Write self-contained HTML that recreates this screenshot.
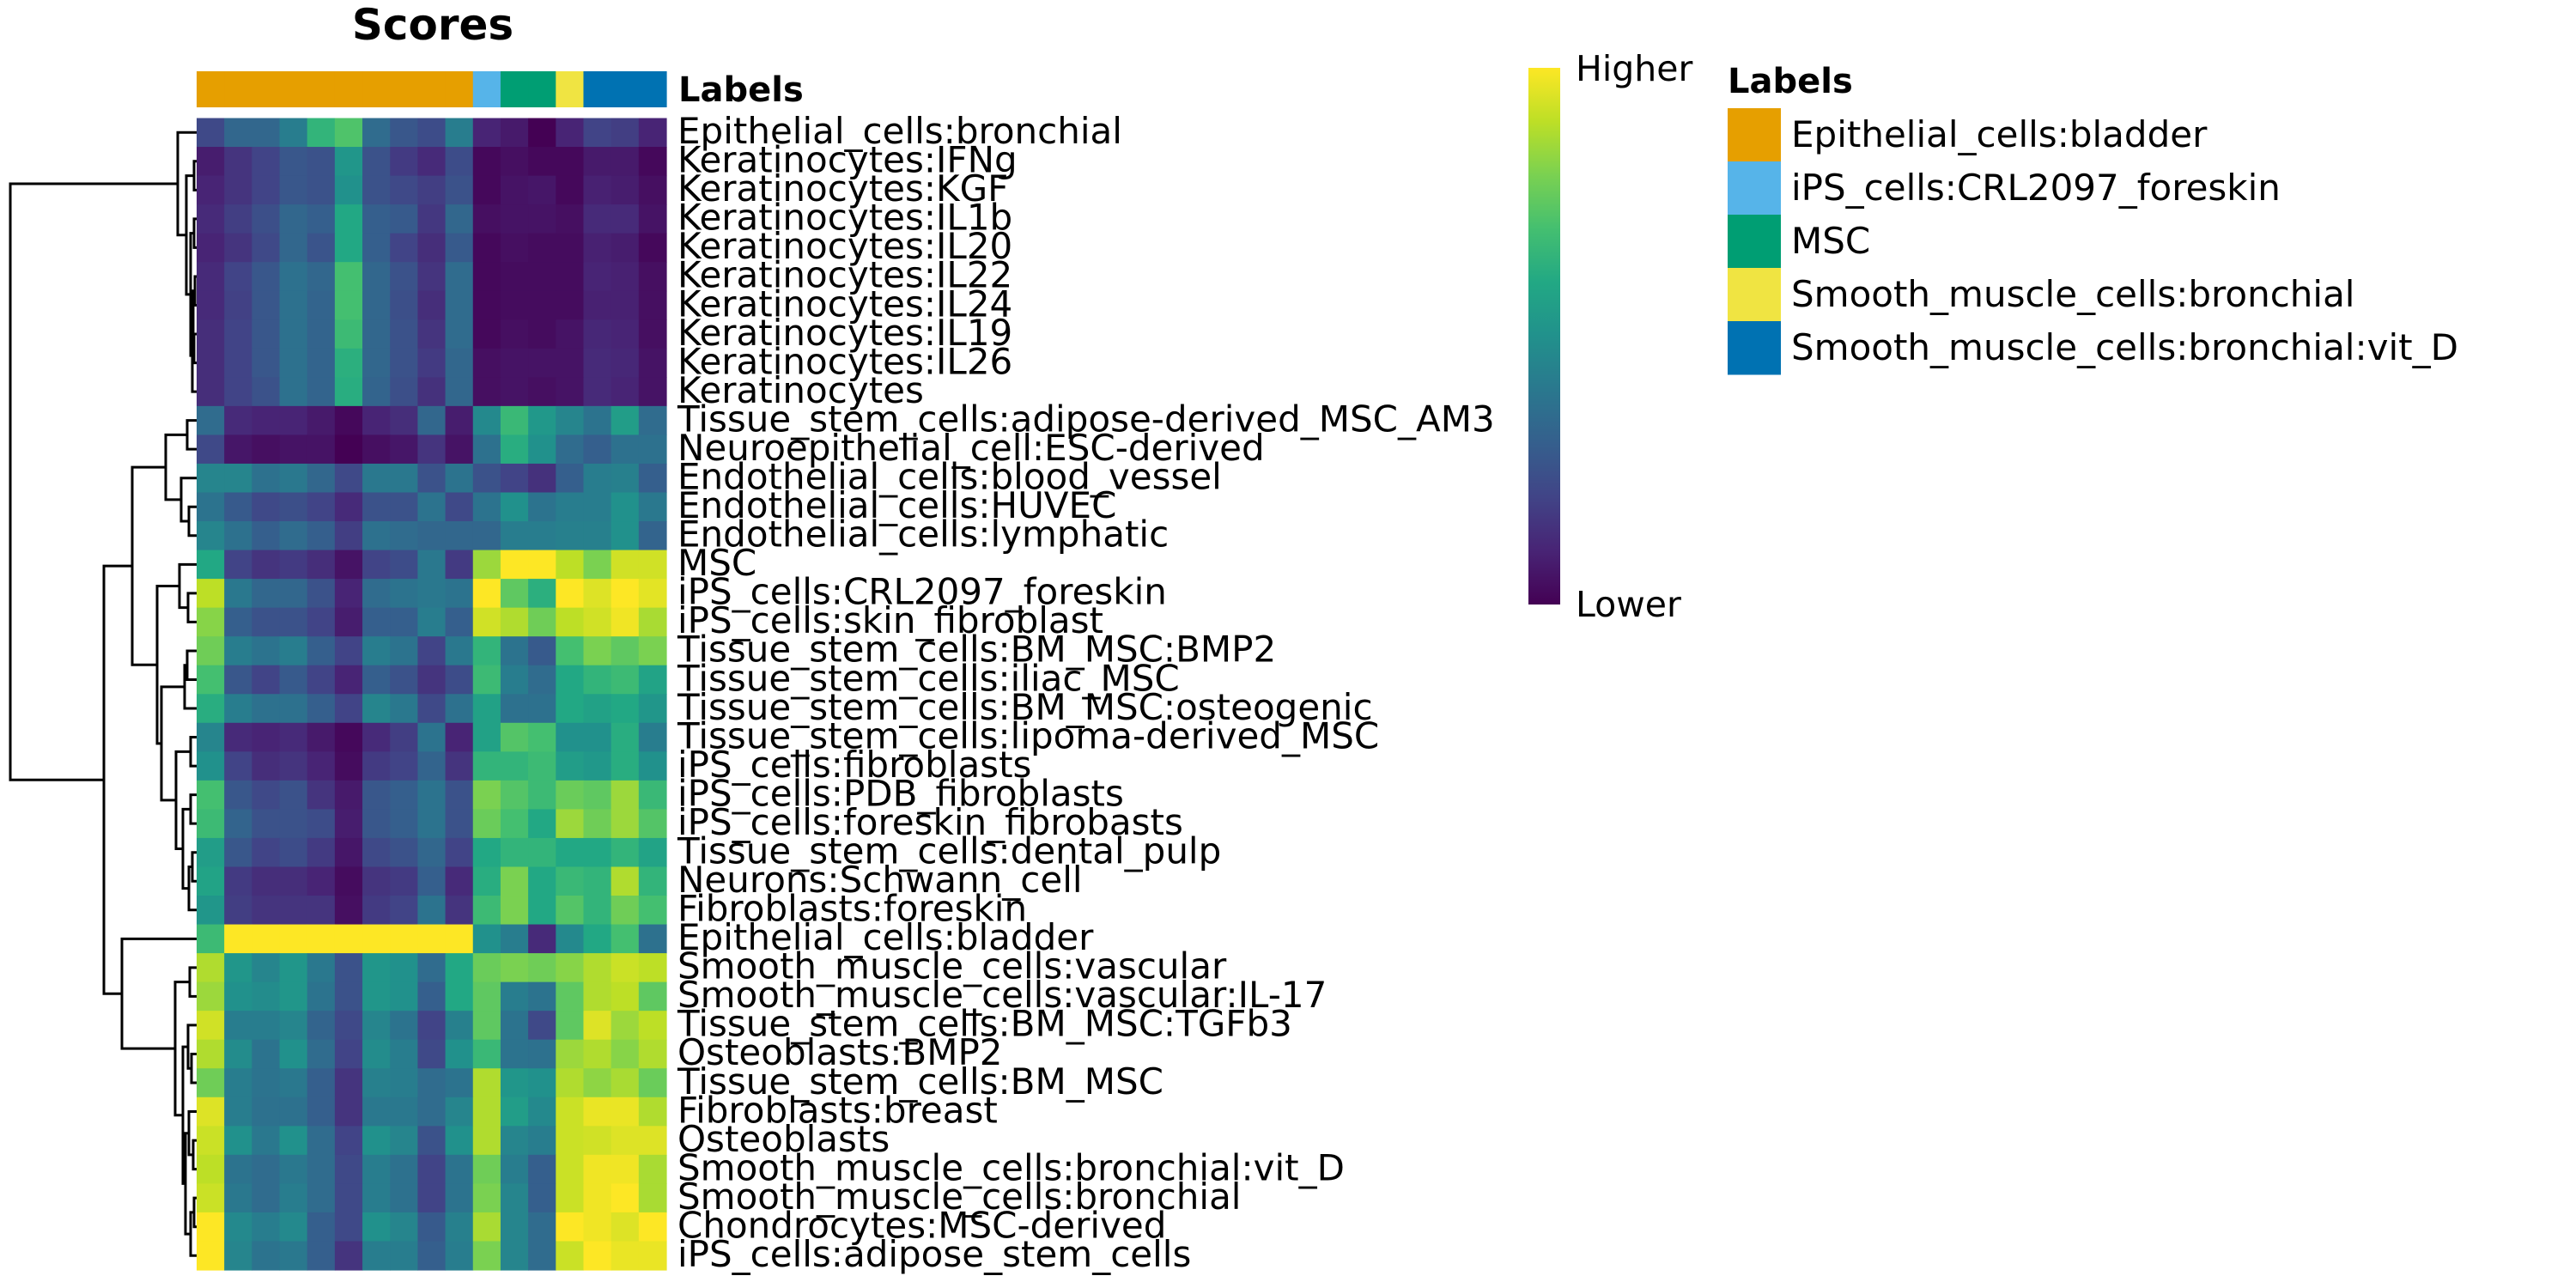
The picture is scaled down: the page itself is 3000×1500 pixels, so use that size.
<!DOCTYPE html>
<html><head><meta charset="utf-8">
<style>
html,body{margin:0;padding:0;background:#fff;}
svg{display:block;}
text{font-family:"DejaVu Sans","Liberation Sans",sans-serif;fill:#000;}
</style></head>
<body>
<svg id="chart" width="3000" height="1500" viewBox="0 0 3000 1500" xmlns="http://www.w3.org/2000/svg">
<text x="504" y="46" font-size="50" font-weight="bold" text-anchor="middle">Scores</text>
<g id="annot"></g>
<text x="790" y="118" font-size="40" font-weight="bold">Labels</text>
<g id="cells"></g>
<g id="rowlabels"></g>
<g id="dendro"></g>
<defs><linearGradient id="vgrad" x1="0" y1="1" x2="0" y2="0"></linearGradient></defs>
<rect x="1780" y="79" width="37" height="625" fill="url(#vgrad)"/>
<text x="1835" y="94" font-size="41">Higher</text>
<text x="1835" y="718" font-size="41">Lower</text>
<text x="2012" y="108" font-size="40" font-weight="bold">Labels</text>
<g id="legend"></g>
</svg>
<script>
const rowNames = ["Epithelial_cells:bronchial","Keratinocytes:IFNg","Keratinocytes:KGF","Keratinocytes:IL1b","Keratinocytes:IL20","Keratinocytes:IL22","Keratinocytes:IL24","Keratinocytes:IL19","Keratinocytes:IL26","Keratinocytes","Tissue_stem_cells:adipose-derived_MSC_AM3","Neuroepithelial_cell:ESC-derived","Endothelial_cells:blood_vessel","Endothelial_cells:HUVEC","Endothelial_cells:lymphatic","MSC","iPS_cells:CRL2097_foreskin","iPS_cells:skin_fibroblast","Tissue_stem_cells:BM_MSC:BMP2","Tissue_stem_cells:iliac_MSC","Tissue_stem_cells:BM_MSC:osteogenic","Tissue_stem_cells:lipoma-derived_MSC","iPS_cells:fibroblasts","iPS_cells:PDB_fibroblasts","iPS_cells:foreskin_fibrobasts","Tissue_stem_cells:dental_pulp","Neurons:Schwann_cell","Fibroblasts:foreskin","Epithelial_cells:bladder","Smooth_muscle_cells:vascular","Smooth_muscle_cells:vascular:IL-17","Tissue_stem_cells:BM_MSC:TGFb3","Osteoblasts:BMP2","Tissue_stem_cells:BM_MSC","Fibroblasts:breast","Osteoblasts","Smooth_muscle_cells:bronchial:vit_D","Smooth_muscle_cells:bronchial","Chondrocytes:MSC-derived","iPS_cells:adipose_stem_cells"];
const colLabels = [0,0,0,0,0,0,0,0,0,0,1,2,2,3,4,4,4];
const labelNames = ["Epithelial_cells:bladder","iPS_cells:CRL2097_foreskin","MSC","Smooth_muscle_cells:bronchial","Smooth_muscle_cells:bronchial:vit_D"];
const labelColors = ["#E69F00","#56B4E9","#009E73","#F0E442","#0072B2"];
const scores = [
[0.22,0.33,0.33,0.42,0.65,0.72,0.35,0.27,0.23,0.42,0.1,0.07,0.0,0.1,0.2,0.18,0.1],
[0.08,0.15,0.2,0.27,0.25,0.52,0.25,0.17,0.12,0.23,0.02,0.04,0.02,0.02,0.07,0.07,0.02],
[0.1,0.15,0.2,0.27,0.25,0.5,0.25,0.22,0.18,0.25,0.02,0.05,0.06,0.02,0.09,0.08,0.04],
[0.12,0.18,0.24,0.33,0.3,0.6,0.3,0.28,0.16,0.33,0.04,0.05,0.05,0.04,0.12,0.12,0.05],
[0.1,0.15,0.22,0.33,0.26,0.6,0.3,0.2,0.13,0.28,0.02,0.04,0.03,0.03,0.09,0.08,0.02],
[0.12,0.2,0.27,0.37,0.33,0.7,0.33,0.25,0.15,0.35,0.02,0.03,0.03,0.03,0.1,0.09,0.04],
[0.12,0.19,0.27,0.37,0.32,0.7,0.33,0.24,0.13,0.35,0.02,0.03,0.03,0.03,0.09,0.09,0.04],
[0.13,0.2,0.27,0.37,0.32,0.68,0.33,0.25,0.15,0.35,0.02,0.04,0.03,0.05,0.11,0.1,0.04],
[0.13,0.2,0.27,0.37,0.32,0.63,0.33,0.25,0.17,0.33,0.04,0.05,0.05,0.05,0.12,0.11,0.05],
[0.13,0.2,0.25,0.37,0.32,0.62,0.32,0.24,0.14,0.33,0.04,0.05,0.04,0.05,0.12,0.1,0.05],
[0.35,0.12,0.1,0.1,0.07,0.02,0.1,0.13,0.33,0.08,0.47,0.67,0.53,0.45,0.38,0.55,0.35],
[0.22,0.06,0.04,0.05,0.05,0.0,0.04,0.06,0.15,0.05,0.37,0.62,0.5,0.35,0.3,0.37,0.37],
[0.45,0.45,0.37,0.4,0.33,0.22,0.4,0.4,0.25,0.38,0.25,0.2,0.14,0.3,0.42,0.43,0.3],
[0.38,0.28,0.22,0.24,0.2,0.12,0.25,0.25,0.38,0.22,0.38,0.5,0.38,0.42,0.42,0.5,0.4],
[0.45,0.37,0.3,0.35,0.3,0.18,0.37,0.35,0.33,0.33,0.33,0.42,0.42,0.43,0.43,0.5,0.32],
[0.6,0.2,0.15,0.17,0.13,0.05,0.2,0.23,0.4,0.17,0.85,1.0,1.0,0.9,0.8,0.93,0.93],
[0.9,0.4,0.33,0.33,0.25,0.1,0.35,0.38,0.4,0.38,1.0,0.75,0.63,1.0,0.95,1.0,0.96],
[0.82,0.3,0.25,0.25,0.2,0.08,0.3,0.3,0.42,0.3,0.93,0.88,0.78,0.9,0.93,0.98,0.87],
[0.78,0.42,0.38,0.42,0.3,0.2,0.42,0.38,0.2,0.4,0.65,0.38,0.28,0.7,0.8,0.75,0.8],
[0.7,0.27,0.2,0.28,0.2,0.1,0.3,0.25,0.15,0.23,0.68,0.42,0.35,0.6,0.65,0.68,0.58],
[0.62,0.42,0.37,0.37,0.3,0.2,0.45,0.4,0.22,0.37,0.57,0.37,0.37,0.6,0.57,0.6,0.52],
[0.45,0.12,0.1,0.12,0.07,0.02,0.12,0.18,0.38,0.1,0.57,0.73,0.7,0.5,0.5,0.62,0.42],
[0.5,0.2,0.13,0.15,0.1,0.03,0.17,0.2,0.32,0.15,0.65,0.65,0.68,0.55,0.53,0.62,0.5],
[0.7,0.27,0.22,0.25,0.15,0.07,0.27,0.3,0.38,0.25,0.8,0.73,0.68,0.77,0.75,0.85,0.67],
[0.68,0.32,0.25,0.25,0.23,0.08,0.27,0.3,0.38,0.25,0.77,0.7,0.6,0.85,0.78,0.85,0.73],
[0.55,0.27,0.2,0.23,0.17,0.06,0.22,0.25,0.33,0.2,0.6,0.65,0.65,0.6,0.6,0.65,0.58],
[0.58,0.17,0.13,0.13,0.1,0.03,0.15,0.17,0.3,0.12,0.62,0.8,0.6,0.67,0.65,0.88,0.65],
[0.52,0.18,0.15,0.15,0.15,0.04,0.17,0.2,0.38,0.15,0.68,0.8,0.6,0.73,0.65,0.78,0.7],
[0.68,1.0,1.0,1.0,1.0,1.0,1.0,1.0,1.0,1.0,0.5,0.42,0.12,0.47,0.6,0.7,0.37],
[0.88,0.52,0.45,0.52,0.4,0.25,0.52,0.5,0.35,0.6,0.77,0.8,0.78,0.82,0.88,0.92,0.9],
[0.85,0.5,0.48,0.52,0.38,0.25,0.52,0.5,0.3,0.6,0.75,0.42,0.38,0.75,0.88,0.9,0.75],
[0.93,0.42,0.42,0.45,0.32,0.22,0.45,0.38,0.2,0.43,0.75,0.38,0.22,0.75,0.95,0.85,0.9],
[0.88,0.48,0.38,0.5,0.35,0.2,0.48,0.42,0.22,0.5,0.67,0.38,0.37,0.85,0.88,0.82,0.88],
[0.78,0.42,0.38,0.4,0.3,0.15,0.43,0.42,0.35,0.38,0.88,0.52,0.5,0.88,0.83,0.87,0.77],
[0.95,0.42,0.37,0.37,0.3,0.15,0.4,0.4,0.35,0.45,0.88,0.55,0.47,0.92,0.97,0.97,0.88],
[0.92,0.5,0.4,0.5,0.35,0.2,0.5,0.45,0.25,0.5,0.88,0.45,0.42,0.92,0.93,0.95,0.95],
[0.9,0.38,0.35,0.4,0.35,0.22,0.42,0.37,0.2,0.38,0.78,0.42,0.3,0.92,0.98,0.98,0.87],
[0.92,0.4,0.35,0.42,0.35,0.22,0.42,0.37,0.2,0.38,0.8,0.45,0.3,0.92,0.98,1.0,0.87],
[1.0,0.47,0.42,0.47,0.3,0.22,0.5,0.45,0.28,0.43,0.87,0.45,0.35,1.0,0.98,0.95,1.0],
[1.0,0.45,0.38,0.4,0.3,0.15,0.42,0.42,0.3,0.42,0.8,0.45,0.35,0.92,1.0,0.97,0.97]
];
// dendrogram merges: [childA, childB, mergeX]; leaves are row indices, nodes "n#" refer to earlier merges
const merges = [
[1,2,226],[3,4,226],[5,6,227],[7,8,226],["n2","n3",225],["n4",9,224],["n1","n5",222],["n0","n6",217],[0,"n7",207],
[10,11,218],[13,14,220],[12,"n10",211],["n9","n11",193],
[16,17,219],[15,"n13",209],[18,19,218],["n15",20,215],[21,22,222],[23,24,222],[25,26,224],["n19",27,220],["n18","n20",213],["n17","n21",205],["n16","n22",188],["n14","n23",183],["n12","n24",154],
[29,30,221],[32,33,223],[31,"n27",219],[35,36,225],[34,"n29",220],[37,38,226],["n31",39,222],["n30","n32",216],["n28","n33",213],["n26","n34",204],[28,"n35",142],
["n25","n36",121],["n8","n37",12]
];

const NS="http://www.w3.org/2000/svg";
const X0=229, Y0=137.5, CW=(776-229)/17, RH=(1479-137.5)/40;
const xPos=c=>X0+c*CW, yPos=r=>Y0+r*RH;
const vir=[[68,1,84],[72,36,117],[65,68,135],[53,95,141],[42,120,142],[33,145,140],[34,168,132],[68,191,112],[122,209,81],[189,223,38],[253,231,37]];
function viridis(v){v=Math.max(0,Math.min(1,v));const t=v*10,i=Math.min(9,Math.floor(t)),f=t-i;const a=vir[i],b=vir[i+1];return `rgb(${Math.round(a[0]+(b[0]-a[0])*f)},${Math.round(a[1]+(b[1]-a[1])*f)},${Math.round(a[2]+(b[2]-a[2])*f)})`;}
function mk(tag,attrs,parent){const e=document.createElementNS(NS,tag);for(const k in attrs)e.setAttribute(k,attrs[k]);parent.appendChild(e);return e;}

const grad=document.getElementById('vgrad');
vir.forEach((c,i)=>mk('stop',{offset:(i*10)+'%','stop-color':`rgb(${c})`},grad));

const annot=document.getElementById('annot');
colLabels.forEach((l,c)=>{const r=mk('rect',{x:xPos(c),y:83,width:CW+0.6,height:42,fill:labelColors[l]},annot);

});

const cells=document.getElementById('cells');
scores.forEach((row,r)=>row.forEach((v,c)=>{const e=mk('rect',{x:xPos(c),y:yPos(r),width:CW+0.6,height:RH+0.6,fill:viridis(v)},cells);

}));

const rl=document.getElementById('rowlabels');
rowNames.forEach((n,r)=>{const t=mk('text',{x:789,y:yPos(r+1)-4,'font-size':42},rl);t.textContent=n;

});

const dg=document.getElementById('dendro');
const nodes=[];
function info(ch){if(typeof ch==='number')return {x:X0,y:yPos(ch)+RH/2};return nodes[+ch.slice(1)];}
merges.forEach(m=>{const a=info(m[0]),b=info(m[1]),x=m[2];
const p=mk('path',{d:`M${a.x},${a.y}H${x}V${b.y}H${b.x}`,fill:'none',stroke:'#000','stroke-width':3},dg);


nodes.push({x:x,y:(a.y+b.y)/2});});

const lg=document.getElementById('legend');
labelNames.forEach((n,i)=>{const y=126+i*62;
const r=mk('rect',{x:2012,y:y,width:62,height:62.5,fill:labelColors[i]},lg);


const t=mk('text',{x:2086,y:y+45,'font-size':42},lg);t.textContent=n;

});
</script>
</body></html>
